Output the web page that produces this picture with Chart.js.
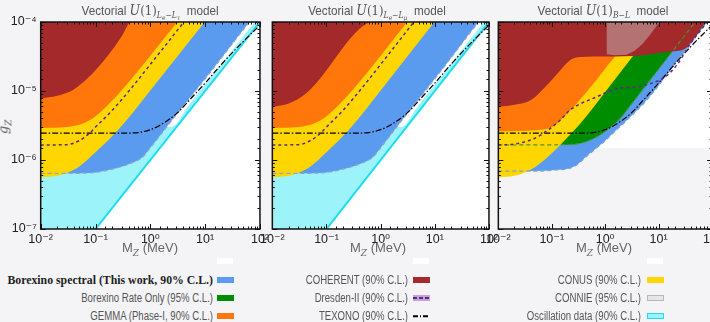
<!DOCTYPE html>
<html>
<head>
<meta charset="utf-8">
<script src="https://cdn.jsdelivr.net/npm/chart.js@4.4.1/dist/chart.umd.min.js"></script>
<style>
  html, body { margin: 0; padding: 0; background: #f4f4f7; overflow: hidden; }
  #wrap { position: relative; width: 710px; height: 322px; overflow: hidden;
          font-family: "Liberation Sans", Arial, sans-serif; color: #555; }
  canvas { position: absolute; top: 0; }
  .ttl { position: absolute; top: 2px; font-size: 13px; white-space: nowrap;
         transform: translateX(-50%) scaleX(0.9); color: #555; }
  .mth { font-family: "DejaVu Serif", "Liberation Serif", serif; }
  .ttl .mth i { font-size: 14px; }
  .sb { font-size: 8.5px; font-style: italic; vertical-align: -3px; }
  .sb .sb2 { font-size: 6.5px; vertical-align: -2px; }
  .xt { position: absolute; top: 240px; font-size: 13px; white-space: nowrap;
        transform: translateX(-50%); color: #666; }
  .xt sub { font-family: "DejaVu Serif", serif; font-style: italic; font-size: 9px; }
  .yt { position: absolute; left: -3px; top: 118px; font-size: 13px; color: #555;
        transform: rotate(-90deg); font-family: "DejaVu Serif", serif; font-style: italic; }
  .yt sub { font-size: 9px; }
  .lg { position: absolute; font-size: 12px; white-space: nowrap; color: #555;
        transform-origin: 100% 50%; transform: translate(-100%, -50%) scaleX(0.8); }
  .lg.bold { font-family: "Liberation Serif", "DejaVu Serif", serif; font-weight: bold;
             color: #222; font-size: 11.8px; transform: translate(-100%, -50%); }
  .sw { position: absolute; transform: translateY(-50%); box-sizing: border-box; }
</style>
</head>
<body>
<div id="wrap">
  <canvas id="c1"></canvas>
  <canvas id="c2"></canvas>
  <canvas id="c3"></canvas>

  <div class="ttl" style="left:150px">Vectorial <span class="mth"><i>U</i>(1)<span class="sb">L<span class="sb2">e</span>−L<span class="sb2">τ</span></span></span>&nbsp; model</div>
  <div class="ttl" style="left:377px">Vectorial <span class="mth"><i>U</i>(1)<span class="sb">L<span class="sb2">e</span>−L<span class="sb2">μ</span></span></span>&nbsp; model</div>
  <div class="ttl" style="left:603px">Vectorial <span class="mth"><i>U</i>(1)<span class="sb">B−L</span></span>&nbsp; model</div>

  <div class="xt" style="left:150px">M<sub>Z</sub> (MeV)</div>
  <div class="xt" style="left:378px">M<sub>Z</sub> (MeV)</div>
  <div class="xt" style="left:604px">M<sub>Z</sub> (MeV)</div>
  <div class="yt">g<sub>Z</sub></div>

  <div id="legend"></div>
</div>

<script>
// ---- axis ticks ----
const X_TICKS = [0.01, 0.1, 1, 10, 100];
const X_LABELS = ['10⁻²', '10⁻¹', '10⁰', '10¹', '10²'];
const Y_TICKS = [1e-7, 1e-6, 1e-5, 1e-4];
const Y_LABELS = ['10⁻⁷', '10⁻⁶', '10⁻⁵', '10⁻⁴'];

// ---- exclusion curves, M_Z in MeV vs g_Z ----
// oscillation data (same in the two L_e - L_x panels)
const oscM = [0.01, 100];
const oscG = [1e-8, 1e-4];
const oscEdgeM = [0.01, 2.4, 5, 100];
const oscEdgeG = [3e-6, 3e-6, 6.2e-6, 1.25e-4];

// U(1) Le-Ltau
const cohM1 = [0.01, 0.02, 0.04, 0.07, 0.1, 0.2, 0.3, 0.42, 1];
const cohG1 = [7.8e-6, 8.5e-6, 1.05e-5, 1.5e-5, 2.0e-5, 3.9e-5, 6.2e-5, 1e-4, 2.4e-4];
// U(1) Le-Lmu
const cohM2 = [0.01, 0.02, 0.04, 0.07, 0.1, 0.2, 0.3, 0.45, 0.62, 1];
const cohG2 = [5.9e-6, 6.6e-6, 9e-6, 1.4e-5, 2e-5, 4.2e-5, 6.2e-5, 8.5e-5, 1e-4, 1.3e-4];

// shared by the two L_e - L_x panels
const gemmaM = [0.01, 0.03, 0.06, 0.1, 0.2, 0.5, 1, 3.1, 10];
const gemmaG = [2.9e-6, 3.0e-6, 3.4e-6, 4.3e-6, 7.2e-6, 1.65e-5, 3.25e-5, 1e-4, 3.2e-4];
const conusM = [0.01, 0.02, 0.03, 0.05, 0.1, 0.2, 0.37, 1, 10, 100];
const conusG = [5.6e-7, 5.9e-7, 6.5e-7, 8e-7, 1.3e-6, 2.2e-6, 3.8e-6, 1.02e-5, 1.02e-4, 1e-3];
const bxM = [0.01, 0.03, 0.1, 0.18, 0.4, 0.72, 1, 2.5, 10, 64, 100];
const bxG = [6.4e-7, 6.4e-7, 6.6e-7, 7.2e-7, 8.7e-7, 1.1e-6, 1.5e-6, 3.8e-6, 1.5e-5, 1e-4, 1.55e-4];
const dresM = [0.01, 0.03, 0.05, 0.08, 0.1, 0.2, 0.5, 1, 4.1];
const dresG = [1.65e-6, 1.67e-6, 1.9e-6, 2.5e-6, 3e-6, 5.2e-6, 1.22e-5, 2.43e-5, 1e-4];
const texM = [0.01, 0.3, 0.6, 1, 1.5, 3, 6, 10, 20, 40, 100];
const texG = [2.45e-6, 2.45e-6, 2.5e-6, 2.75e-6, 3.2e-6, 4.7e-6, 8.4e-6, 1.3e-5, 2.45e-5, 4.4e-5, 9e-5];

// U(1) B-L
const cohM3 = [0.01, 0.02, 0.041, 0.08, 0.128, 0.22, 0.34, 1, 5, 15, 31, 80, 100];
const cohG3 = [5.9e-6, 6.3e-6, 7.4e-6, 1.2e-5, 1.8e-5, 2.8e-5, 3.1e-5, 3.15e-5, 3.3e-5, 3.7e-5, 4.1e-5, 1.05e-4, 1.3e-4];
const connieM = [1.06, 1.06, 1.5, 2.5, 3.5, 5, 7, 9, 10.5];
const connieG = [1e-4, 3.4e-5, 3.3e-5, 3.35e-5, 3.8e-5, 4.8e-5, 6.6e-5, 8.6e-5, 1e-4];
const gemmaM3 = [0.01, 0.05, 0.1, 0.2, 0.5, 1, 1.5, 5];
const gemmaG3 = [2.6e-6, 2.7e-6, 3.0e-6, 4.8e-6, 1.07e-5, 2.1e-5, 3.1e-5, 1.05e-4];
const conusM3 = [0.01, 0.02, 0.03, 0.05, 0.1, 0.2, 0.4, 1, 10];
const conusG3 = [5.6e-7, 5.9e-7, 6.5e-7, 8e-7, 1.25e-6, 2.15e-6, 3.9e-6, 9.7e-6, 9.7e-5];
const rateM3 = [0.01, 0.2, 0.4, 0.8, 1.2, 1.85, 3.5, 15, 50, 100];
const rateG3 = [1.65e-6, 1.67e-6, 1.8e-6, 2.3e-6, 2.9e-6, 3.9e-6, 7.3e-6, 3.1e-5, 1.03e-4, 2.06e-4];
const bxM3 = [0.01, 0.05, 0.1, 0.25, 0.52, 1, 1.36, 2.4, 6, 20, 100];
const bxG3 = [6.9e-7, 6.9e-7, 7.1e-7, 7.9e-7, 1.25e-6, 1.9e-6, 2.4e-6, 3.6e-6, 7.4e-6, 2.45e-5, 1.23e-4];
const dresM3 = [0.01, 0.02, 0.04, 0.062, 0.145, 0.22, 0.69, 1.83, 3.8, 7.4, 13.3, 23, 40, 66, 100];
const dresG3 = [1.65e-6, 1.7e-6, 1.95e-6, 2.3e-6, 3.8e-6, 5.3e-6, 8.2e-6, 1.1e-5, 1.14e-5, 1.3e-5, 1.6e-5, 2.5e-5, 4.95e-5, 8.2e-5, 1.25e-4];

// ---- legend ----
const legendLabels = [
  'Borexino spectral (This work, 90% C.L.)', 'Borexino Rate Only (95% C.L.)', 'GEMMA (Phase-I, 90% C.L.)',
  'COHERENT (90% C.L.)', 'Dresden-II (90% C.L.)', 'TEXONO (90% C.L.)',
  'CONUS (90% C.L.)', 'CONNIE (95% C.L.)', 'Oscillation data (90% C.L.)'
];

const COL = {
  coh: '#a3292b', gemma: '#ff770a', conus: '#ffd600', rate: '#008c00', spec: '#5b9bef',
  oscFill: '#9cf4fa', oscLine: '#1edcef', dres: '#5a2a8a', connie: 'rgba(205,205,205,0.45)',
  page: '#f4f4f7'
};
const NONE = 'rgba(0,0,0,0)';

function pts(M, G) {
  return M.map((m, i) => ({ x: m, y: G[i] }));
}

function region(M, G, color, order, smooth = true) {
  return {
    data: pts(M, G), fill: 'end', backgroundColor: color, borderColor: NONE, borderWidth: 0,
    pointRadius: 0, order, cubicInterpolationMode: smooth ? 'monotone' : 'default', tension: 0
  };
}

function curve(M, G, color, dash, width, order) {
  return {
    data: pts(M, G), fill: false, borderColor: color, borderDash: dash, borderWidth: width,
    pointRadius: 0, order, cubicInterpolationMode: 'monotone'
  };
}

function tickLabel(values, labels) {
  return v => {
    const i = values.findIndex(t => Math.abs(Math.log10(v / t)) < 1e-6);
    return i < 0 ? '' : labels[i];
  };
}

// plot background (white, panel 3 shows page grey in its lower part)
const plotBg = {
  id: 'plotBg',
  beforeDatasetsDraw(chart, args, opts) {
    const { ctx, chartArea: a, scales: { y } } = chart;
    ctx.save();
    ctx.fillStyle = '#ffffff';
    ctx.fillRect(a.left, a.top, a.width, a.height);
    if (opts.split) {
      const py = y.getPixelForValue(opts.split);
      ctx.fillStyle = COL.page;
      ctx.fillRect(a.left, py, a.width, a.bottom - py);
    }
    ctx.restore();
  }
};

// frame + inward ticks on all four sides
const frameTicks = {
  id: 'frameTicks',
  afterDatasetsDraw(chart) {
    const { ctx, chartArea: a, scales: { x, y } } = chart;
    ctx.save();
    ctx.strokeStyle = '#111';
    ctx.lineWidth = 1;
    ctx.beginPath();
    x.ticks.forEach(t => {
      const major = Math.abs(Math.log10(t.value) - Math.round(Math.log10(t.value))) < 1e-6;
      const len = major ? 5 : 2.5;
      const px = Math.round(x.getPixelForValue(t.value)) + 0.5;
      ctx.moveTo(px, a.bottom); ctx.lineTo(px, a.bottom - len);
      ctx.moveTo(px, a.top); ctx.lineTo(px, a.top + len);
    });
    y.ticks.forEach(t => {
      const major = Math.abs(Math.log10(t.value) - Math.round(Math.log10(t.value))) < 1e-6;
      const len = major ? 5 : 2.5;
      const py = Math.round(y.getPixelForValue(t.value)) + 0.5;
      ctx.moveTo(a.left, py); ctx.lineTo(a.left + len, py);
      ctx.moveTo(a.right, py); ctx.lineTo(a.right - len, py);
    });
    ctx.stroke();
    ctx.lineWidth = 1.5;
    ctx.strokeRect(a.left, a.top, a.right - a.left, a.bottom - a.top);
    ctx.restore();
  }
};

function makePanel(id, left, width, yW, padR, showY, datasets, split) {
  const cv = document.getElementById(id);
  cv.width = width;
  cv.height = 262;
  cv.style.left = left + 'px';
  return new Chart(cv, {
    type: 'line',
    data: { datasets },
    plugins: [plotBg, frameTicks],
    options: {
      responsive: false,
      animation: false,
      devicePixelRatio: 1,
      layout: { autoPadding: false, padding: { left: 0, top: 22, right: padR, bottom: 0 } },
      plugins: { legend: { display: false }, tooltip: { enabled: false }, plotBg: { split } },
      scales: {
        x: {
          type: 'logarithmic', min: 0.01, max: 100,
          grid: { display: false, drawTicks: false }, border: { display: false },
          ticks: {
            autoSkip: false, maxRotation: 0, padding: 3, color: '#222',
            font: { family: 'Liberation Sans, DejaVu Sans', size: 12.5 },
            callback: tickLabel(X_TICKS, X_LABELS)
          },
          afterFit: s => { s.height = 33; }
        },
        y: {
          type: 'logarithmic', min: 1e-7, max: 1e-4,
          grid: { display: false, drawTicks: false }, border: { display: false },
          ticks: {
            display: showY, autoSkip: false, padding: 4, color: '#222',
            font: { family: 'Liberation Sans, DejaVu Sans', size: 12.5 },
            callback: tickLabel(Y_TICKS, Y_LABELS)
          },
          afterFit: s => { s.width = yW; }
        }
      }
    }
  });
}

function leptonSets(cohM, cohG) {
  return [
    curve(dresM, dresG, COL.dres, [3, 3], 1.5, 0),
    curve(texM, texG, '#000', [6, 2, 1.5, 2], 1.2, 1),
    curve(bxM, bxG, '#8ea6c8', [4, 3], 1.2, 2),
    region(cohM, cohG, COL.coh, 4),
    region(gemmaM, gemmaG, COL.gemma, 5),
    region(conusM, conusG, COL.conus, 6),
    region(bxM, bxG, COL.spec, 8),
    region(oscEdgeM, oscEdgeG, '#ffffff', 9),
    Object.assign(region(oscM, oscG, COL.oscFill, 10, false), { borderColor: COL.oscLine, borderWidth: 2 })
  ];
}

const blSets = [
  curve(dresM3, dresG3, COL.dres, [3, 3], 1.5, 0),
  curve(texM, texG, '#000', [6, 2, 1.5, 2], 1.2, 1),
  curve(rateM3, rateG3, '#3f9a2c', [4, 3], 1.2, 2),
  curve(bxM3, bxG3, '#7e9fd2', [4, 3], 1.2, 2),
  region(connieM, connieG, COL.connie, 3, false),
  region(cohM3, cohG3, COL.coh, 4),
  region(gemmaM3, gemmaG3, COL.gemma, 5),
  region(conusM3, conusG3, COL.conus, 6),
  region(rateM3, rateG3, COL.rate, 7),
  region(bxM3, bxG3, COL.spec, 8)
];

makePanel('c1', 0, 272, 40.7, 11.3, true, leptonSets(cohM1, cohG1), null);
makePanel('c2', 256.7, 244, 14, 11.7, false, leptonSets(cohM2, cohG2), null);
makePanel('c3', 482.7, 246, 14, 17, false, blSets, 1.5e-6);

// ---- legend (3 columns) ----
const swatches = [
  'background:#5b9bef', 'background:#008c00', 'background:#ff770a',
  'background:#a3292b',
  'background:#c7a3dc;background-image:repeating-linear-gradient(90deg,#5a2a8a 0 4px,transparent 4px 6px);background-size:100% 2px;background-repeat:no-repeat;background-position:0 50%',
  'height:1.5px;background:repeating-linear-gradient(90deg,#000 0 5px,transparent 5px 7px,#000 7px 8px,transparent 8px 10px)',
  'background:#ffd600', 'background:#e6e6e6;border:1px solid #b8b8b8', 'background:#9cf4fa;border:1px solid #1edcef'
];
const colText = [213, 408, 641];
const colSw = [217, 413, 647];
const rowY = [280, 298, 316];
const lg = document.getElementById('legend');
let html = '';
colSw.forEach(x => {
  html += `<div class="sw" style="left:${x}px;top:261px;width:16px;height:6px;background:#fff"></div>`;
});
legendLabels.forEach((label, i) => {
  const c = Math.floor(i / 3), r = i % 3;
  html += `<div class="lg${i === 0 ? ' bold' : ''}" style="left:${colText[c]}px;top:${rowY[r]}px">${label}</div>`;
  html += `<div class="sw" style="left:${colSw[c]}px;top:${rowY[r]}px;width:17px;height:6px;${swatches[i]}"></div>`;
});
lg.innerHTML = html;
</script>
</body>
</html>
